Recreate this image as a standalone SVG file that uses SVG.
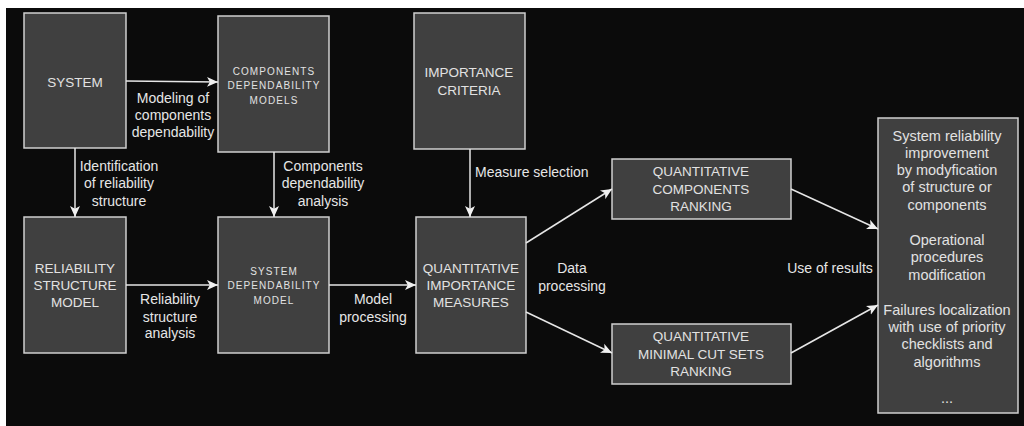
<svg xmlns="http://www.w3.org/2000/svg" width="1024" height="426" viewBox="0 0 1024 426">
<defs>
<marker id="arr" markerUnits="userSpaceOnUse" markerWidth="13" markerHeight="11" refX="11" refY="5.5" orient="auto">
<path d="M0,0.5 L11,5.5 L0,10.5 L2.8,5.5 Z" fill="#f0f0f0"/>
</marker>
<style>
.node rect{fill:#404040;stroke:#cfcfcf;stroke-width:1.5}
.nt{font-family:"Liberation Sans",Arial,sans-serif;font-size:13.5px;fill:#e2e2e2;text-anchor:middle}
.st{font-family:"Liberation Sans",Arial,sans-serif;font-size:10px;letter-spacing:1.1px;fill:#e2e2e2;text-anchor:middle}
.lb{font-family:"Liberation Sans",Arial,sans-serif;font-size:14px;fill:#e6e6e6;text-anchor:middle}
.rt{font-family:"Liberation Sans",Arial,sans-serif;font-size:14.5px;fill:#e2e2e2;text-anchor:middle}
.edges line{stroke:#e6e6e6;stroke-width:1.5;marker-end:url(#arr)}
</style>
</defs>
<rect x="0" y="0" width="1024" height="426" fill="#ffffff"/>
<rect x="6" y="8" width="1018" height="418" fill="#0b0b0b"/>

<g id="system" class="node">
<rect x="24" y="13" width="102" height="135"/>
<text class="nt" x="75" y="87">SYSTEM</text>
</g>
<g id="components-models" class="node">
<rect x="218" y="16" width="111" height="136"/>
<text class="st" x="274" y="75">COMPONENTS</text>
<text class="st" x="274" y="89">DEPENDABILITY</text>
<text class="st" x="274" y="104">MODELS</text>
</g>
<g id="reliability-structure-model" class="node">
<rect x="24" y="217" width="102" height="136"/>
<text class="nt" x="75" y="273">RELIABILITY</text>
<text class="nt" x="75" y="290">STRUCTURE</text>
<text class="nt" x="75" y="307">MODEL</text>
</g>
<g id="system-dependability-model" class="node">
<rect x="218" y="217" width="111" height="136"/>
<text class="st" x="274" y="275">SYSTEM</text>
<text class="st" x="274" y="289">DEPENDABILITY</text>
<text class="st" x="274" y="304">MODEL</text>
</g>
<g id="importance-criteria" class="node">
<rect x="414" y="13" width="111" height="136"/>
<text class="nt" x="469" y="77">IMPORTANCE</text>
<text class="nt" x="469" y="95">CRITERIA</text>
</g>
<g id="quantitative-importance-measures" class="node">
<rect x="416" y="217" width="110" height="136"/>
<text class="nt" x="471" y="273">QUANTITATIVE</text>
<text class="nt" x="471" y="290">IMPORTANCE</text>
<text class="nt" x="471" y="307">MEASURES</text>
</g>
<g id="components-ranking" class="node">
<rect x="612" y="159" width="179" height="60"/>
<text class="nt" x="701" y="176">QUANTITATIVE</text>
<text class="nt" x="701" y="194">COMPONENTS</text>
<text class="nt" x="701" y="211">RANKING</text>
</g>
<g id="cut-sets-ranking" class="node">
<rect x="612" y="324" width="179" height="60"/>
<text class="nt" x="701" y="341">QUANTITATIVE</text>
<text class="nt" x="701" y="359">MINIMAL CUT SETS</text>
<text class="nt" x="701" y="376">RANKING</text>
</g>
<g id="results" class="node">
<rect x="878" y="118" width="140" height="295"/>
<text class="rt" x="947" y="141">System reliability</text>
<text class="rt" x="947" y="158">improvement</text>
<text class="rt" x="947" y="175">by modyfication</text>
<text class="rt" x="947" y="192">of structure or</text>
<text class="rt" x="947" y="210">components</text>
<text class="rt" x="947" y="245">Operational</text>
<text class="rt" x="947" y="262">procedures</text>
<text class="rt" x="947" y="280">modification</text>
<text class="rt" x="947" y="315">Failures localization</text>
<text class="rt" x="947" y="332">with use of priority</text>
<text class="rt" x="947" y="349">checklists and</text>
<text class="rt" x="947" y="367">algorithms</text>
<text class="rt" x="947" y="403">...</text>
</g>

<g id="connectors" class="edges">
<line x1="126" y1="81" x2="218" y2="82"/>
<line x1="75" y1="148" x2="75" y2="217"/>
<line x1="274" y1="152" x2="274" y2="217"/>
<line x1="126" y1="285" x2="218" y2="285"/>
<line x1="329" y1="285" x2="416" y2="285"/>
<line x1="470" y1="149" x2="470" y2="217"/>
<line x1="526" y1="243" x2="612" y2="189"/>
<line x1="526" y1="312" x2="612" y2="353"/>
<line x1="791" y1="189" x2="878" y2="229"/>
<line x1="791" y1="353" x2="878" y2="305"/>
<text class="lb" x="173" y="103">Modeling of</text>
<text class="lb" x="173" y="120">components</text>
<text class="lb" x="173" y="137">dependability</text>
<text class="lb" x="119" y="171">Identification</text>
<text class="lb" x="119" y="188">of reliability</text>
<text class="lb" x="119" y="206">structure</text>
<text class="lb" x="323" y="171">Components</text>
<text class="lb" x="323" y="188">dependability</text>
<text class="lb" x="323" y="206">analysis</text>
<text class="lb" x="170" y="304">Reliability</text>
<text class="lb" x="170" y="322">structure</text>
<text class="lb" x="170" y="338">analysis</text>
<text class="lb" x="373" y="304">Model</text>
<text class="lb" x="373" y="322">processing</text>
<text class="lb" x="475" y="177" style="text-anchor:start">Measure selection</text>
<text class="lb" x="572" y="273">Data</text>
<text class="lb" x="572" y="291">processing</text>
<text class="lb" x="830" y="273">Use of results</text>
</g>
</svg>
